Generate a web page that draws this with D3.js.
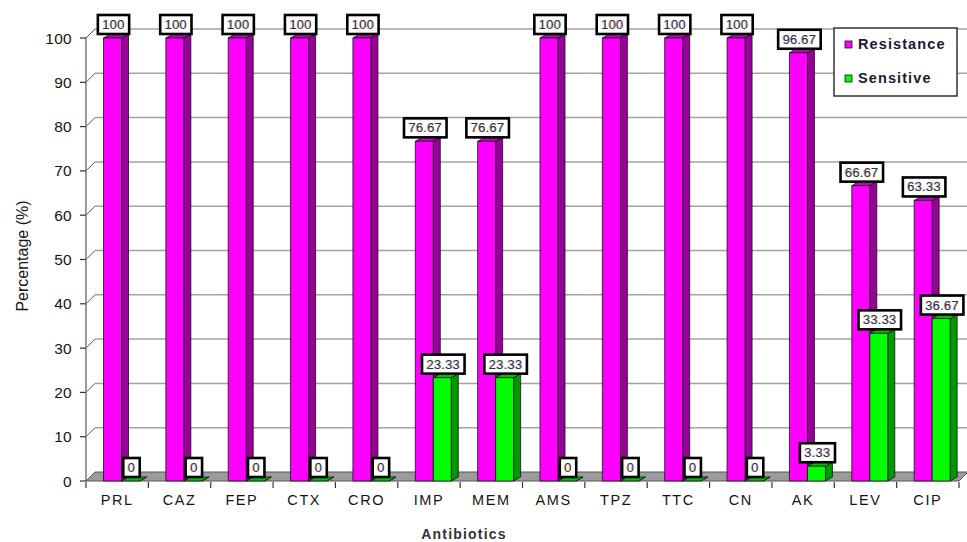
<!DOCTYPE html>
<html>
<head>
<meta charset="utf-8">
<script src="https://cdn.jsdelivr.net/npm/d3@7/dist/d3.min.js"></script>
<style>
  html, body { margin: 0; padding: 0; background: #fff; }
  svg { display: block; font-family: Arial, "Liberation Sans", sans-serif; }
</style>
</head>
<body>
<svg id="chart" width="967" height="542"></svg>
<script>
// Antibiotic susceptibility (%) per agent
const categories = ["PRL", "CAZ", "FEP", "CTX", "CRO", "IMP", "MEM", "AMS", "TPZ", "TTC", "CN", "AK", "LEV", "CIP"];
const resistance = [100, 100, 100, 100, 100, 76.67, 76.67, 100, 100, 100, 100, 96.67, 66.67, 63.33];
const sensitive  = [0, 0, 0, 0, 0, 23.33, 23.33, 0, 0, 0, 0, 3.33, 33.33, 36.67];
const seriesNames = ["Resistance", "Sensitive"];
const yTicks = [0, 10, 20, 30, 40, 50, 60, 70, 80, 90, 100];

const palette = {
  Resistance: { front: "#ff00ff", side: "#990099", top: "#c400c4" },
  Sensitive:  { front: "#00ff00", side: "#009a00", top: "#00c000" }
};

const svg = d3.select("#chart");

const x0 = 86, x1 = 959;
const y = d3.scaleLinear().domain([0, 100]).range([481, 38]);
const x = d3.scaleBand().domain(categories).range([x0, x1]);
const xs = d3.scaleBand().domain(seriesNames).range([17.5, 53.5]);

// depth offsets for the walls/floor and for the columns
const WD = { dx: 9, dy: -9 };
const BD = { dx: 7, dy: -4 };

const rows = categories.map((c, i) => ({ cat: c, Resistance: resistance[i], Sensitive: sensitive[i] }));

// back wall gridlines with their left-wall connectors
const grid = svg.append("g");
yTicks.filter(v => v > 0).forEach(v => {
  grid.append("line")
    .attr("x1", x0 + WD.dx).attr("x2", 967)
    .attr("y1", y(v) + WD.dy).attr("y2", y(v) + WD.dy)
    .attr("stroke", "#a3a3a3").attr("stroke-width", 1.5);
  grid.append("line")
    .attr("x1", x0).attr("x2", x0 + WD.dx)
    .attr("y1", y(v)).attr("y2", y(v) + WD.dy)
    .attr("stroke", "#555").attr("stroke-width", 1);
});

// left wall edge
svg.append("line")
  .attr("x1", x0).attr("x2", x0)
  .attr("y1", y(100)).attr("y2", y(0))
  .attr("stroke", "#9a9a9a").attr("stroke-width", 2);

// floor
const fy = y(0);
svg.append("path")
  .attr("d", `M${x0},${fy} L${x1},${fy} L${x1 + WD.dx},${fy + WD.dy} L${x0 + WD.dx},${fy + WD.dy} Z`)
  .attr("fill", "#9b9b9b").attr("stroke", "#555").attr("stroke-width", 1);

// y axis ticks and labels
const yAxis = svg.append("g");
yTicks.forEach(v => {
  yAxis.append("line")
    .attr("x1", x0 - 6).attr("x2", x0)
    .attr("y1", y(v)).attr("y2", y(v))
    .attr("stroke", "#333").attr("stroke-width", 1.2);
  yAxis.append("text")
    .attr("x", 72).attr("y", y(v))
    .attr("dy", "0.36em")
    .attr("text-anchor", "end")
    .attr("font-size", 15.5)
    .attr("letter-spacing", 0.3)
    .attr("fill", "#151515")
    .text(v);
});

// x axis ticks and category labels
const xAxis = svg.append("g");
categories.concat([null]).forEach(c => {
  const px = c === null ? x1 : x(c);
  xAxis.append("line")
    .attr("x1", px).attr("x2", px)
    .attr("y1", fy + 1).attr("y2", fy + 7)
    .attr("stroke", "#333").attr("stroke-width", 1.2);
});
categories.forEach(c => {
  xAxis.append("text")
    .attr("x", x(c) + x.bandwidth() / 2)
    .attr("y", 505)
    .attr("text-anchor", "middle")
    .attr("font-size", 14.5)
    .attr("letter-spacing", 1.6)
    .attr("fill", "#151515")
    .text(c);
});

// 3D columns
const bars = svg.append("g");
rows.forEach(r => {
  seriesNames.forEach(s => {
    const v = r[s];
    const bx = x(r.cat) + xs(s);
    const bw = xs.bandwidth();
    const top = y(v), bot = y(0);
    const col = palette[s];
    const g = bars.append("g").attr("stroke", "#111").attr("stroke-width", 0.8).attr("stroke-linejoin", "round");
    // side face
    g.append("path")
      .attr("d", `M${bx + bw},${bot} L${bx + bw + BD.dx},${bot + BD.dy} L${bx + bw + BD.dx},${top + BD.dy} L${bx + bw},${top} Z`)
      .attr("fill", col.side);
    // top face
    g.append("path")
      .attr("d", `M${bx},${top} L${bx + bw},${top} L${bx + bw + BD.dx},${top + BD.dy} L${bx + BD.dx},${top + BD.dy} Z`)
      .attr("fill", col.top);
    // front face
    if (bot - top > 0.5) {
      g.append("rect")
        .attr("x", bx).attr("y", top)
        .attr("width", bw).attr("height", bot - top)
        .attr("fill", col.front);
    }
  });
});

// value labels in framed boxes
const labels = svg.append("g");
rows.forEach(r => {
  seriesNames.forEach(s => {
    const v = r[s];
    const cx = x(r.cat) + xs(s) + xs.bandwidth() / 2 + 1;
    const bottom = y(v) - 4;
    const g = labels.append("g");
    const rect = g.append("rect");
    g.append("text")
      .attr("x", cx - 0.7).attr("y", bottom - 5)
      .attr("text-anchor", "middle")
      .attr("font-size", 13)
      .attr("letter-spacing", 0.2)
      .attr("fill", "#e0901e")
      .attr("opacity", 0.7)
      .text(v);
    const t = g.append("text")
      .attr("x", cx).attr("y", bottom - 5)
      .attr("text-anchor", "middle")
      .attr("font-size", 13)
      .attr("letter-spacing", 0.2)
      .attr("fill", "#1f2f66")
      .text(v);
    const w = t.node().getComputedTextLength() + 9;
    rect.attr("x", cx - w / 2).attr("y", bottom - 19)
      .attr("width", w).attr("height", 19)
      .attr("fill", "#fff").attr("stroke", "#000").attr("stroke-width", 2.6);
  });
});

// legend
const lg = svg.append("g");
lg.append("rect")
  .attr("x", 834).attr("y", 28).attr("width", 123).attr("height", 68)
  .attr("fill", "#fff").attr("stroke", "#333").attr("stroke-width", 1.5);
seriesNames.forEach((s, i) => {
  const ly = 49 + i * 34;
  lg.append("rect")
    .attr("x", 845).attr("y", ly - 8).attr("width", 7).attr("height", 7)
    .attr("fill", palette[s].front).attr("stroke", "#111").attr("stroke-width", 0.8);
  lg.append("text")
    .attr("x", 858).attr("y", ly)
    .attr("font-size", 14.5)
    .attr("font-weight", "bold")
    .attr("letter-spacing", 1.1)
    .attr("fill", "#1a1a30")
    .text(s);
});

// axis titles
svg.append("text")
  .attr("transform", "translate(28,256) rotate(-90)")
  .attr("text-anchor", "middle")
  .attr("font-size", 16)
  .attr("fill", "#151515")
  .text("Percentage (%)");

svg.append("text")
  .attr("x", 464).attr("y", 539)
  .attr("text-anchor", "middle")
  .attr("font-size", 14)
  .attr("font-weight", "bold")
  .attr("letter-spacing", 1.2)
  .attr("fill", "#333")
  .text("Antibiotics");
</script>
</body>
</html>
